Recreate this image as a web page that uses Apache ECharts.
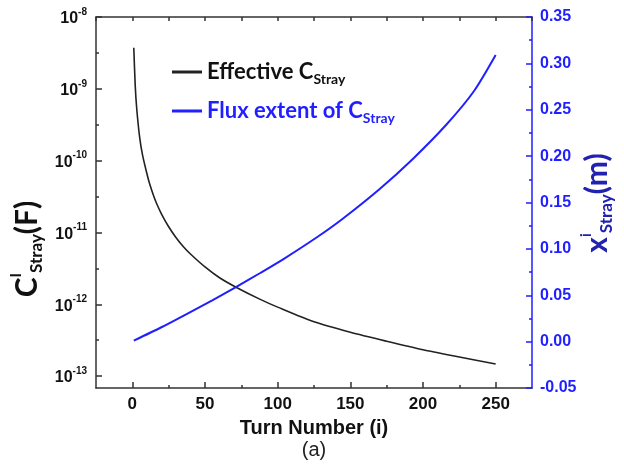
<!DOCTYPE html>
<html>
<head>
<meta charset="utf-8">
<script src="https://cdn.jsdelivr.net/npm/echarts@6/dist/echarts.min.js"></script>
<style>html,body{margin:0;padding:0;background:#fff;}#c{width:624px;height:464px;}</style>
</head>
<body>
<div id="c"></div>
<script>
// ---- data ----
const turnC = [1, 2, 3, 5, 7, 10, 12, 15, 17, 20, 25, 30, 35, 40, 50, 60, 72, 88, 100, 125, 150, 175, 200, 225, 250];
const capC = [3.72e-9, 1.10e-9, 5.37e-10, 2.14e-10, 1.20e-10, 6.61e-11, 4.68e-11, 3.09e-11, 2.45e-11, 1.82e-11, 1.20e-11, 8.51e-12, 6.38e-12, 5.01e-12, 3.31e-12, 2.34e-12, 1.70e-12, 1.17e-12, 9.12e-13, 5.69e-13, 4.07e-13, 3.05e-13, 2.32e-13, 1.84e-13, 1.47e-13];
const turnX = [1, 20, 37, 55, 71, 88, 104, 127, 145, 170, 193, 216, 235, 250];
const fluxX = [0.001, 0.0155, 0.0295, 0.0445, 0.0585, 0.074, 0.089, 0.1125, 0.1328, 0.1643, 0.197, 0.2338, 0.2699, 0.309];
const xTicks = [0, 50, 100, 150, 200, 250];
const xMinor = [25, 75, 125, 175, 225];
const leftExp = [-13, -12, -11, -10, -9, -8];
const leftMinor = [-12.5, -11.5, -10.5, -9.5, -8.5];

const BLUE = '#1f1fff';
const NAVY = '#2222b0';
const AX = '#333';
const logMin = -13.166;

const chart = echarts.init(document.getElementById('c'), null, {renderer: 'canvas'});
const arial = 'Liberation Sans, Arial, sans-serif';
const cal = 'Lato, Open Sans, sans-serif';

const option = {
  animation: false,
  backgroundColor: '#fff',
  grid: {left: 96, right: 92, top: 17, bottom: 76, containLabel: false},
  legend: {
    orient: 'vertical', left: 167, top: 56, itemWidth: 30, itemHeight: 3, itemGap: 14, icon: 'rect',
    data: ['eff', 'flux'],
    formatter: n => n === 'eff' ? '{em|Effective C}{es|Stray}' : '{fm|Flux extent of C}{fs|Stray}',
    textStyle: {
      padding: [0, 0, 0, 0],
      rich: {
        em: {fontFamily: cal, fontWeight: 'bold', fontSize: 22, color: '#111', lineHeight: 28, verticalAlign: 'middle'},
        es: {fontFamily: cal, fontWeight: 'bold', fontSize: 14, color: '#111', lineHeight: 14, verticalAlign: 'bottom'},
        fm: {fontFamily: cal, fontWeight: 'bold', fontSize: 22, color: BLUE, lineHeight: 28, verticalAlign: 'middle'},
        fs: {fontFamily: cal, fontWeight: 'bold', fontSize: 14, color: BLUE, lineHeight: 14, verticalAlign: 'bottom'}
      }
    }
  },
  xAxis: [
    {type: 'value', position: 'bottom', min: -25, max: 275, splitLine: {show: false},
     axisLine: {onZero: false, lineStyle: {color: AX, width: 1.5}},
     axisTick: {inside: true, length: 6, customValues: xTicks, lineStyle: {color: AX, width: 1.5}},
     axisLabel: {customValues: xTicks, margin: 8, color: '#111', fontFamily: arial, fontWeight: 'bold', fontSize: 17}},
    {type: 'value', position: 'bottom', min: -25, max: 275, splitLine: {show: false},
     axisLine: {show: false, onZero: false},
     axisTick: {inside: true, length: 3, customValues: xMinor, lineStyle: {color: AX, width: 1.5}},
     axisLabel: {show: false}},
    {type: 'value', position: 'top', min: -25, max: 275, interval: 25, splitLine: {show: false},
     axisLine: {onZero: false, lineStyle: {color: AX, width: 1.5}},
     axisTick: {inside: true, length: 4, lineStyle: {color: AX, width: 1.5}},
     axisLabel: {show: false}}
  ],
  yAxis: [
    {type: 'value', position: 'left', min: logMin, max: -8, splitLine: {show: false},
     axisLine: {show: true, onZero: false, lineStyle: {color: AX, width: 1.5}},
     axisTick: {show: true, inside: true, length: 6, customValues: leftExp, lineStyle: {color: AX, width: 1.5}},
     axisLabel: {customValues: leftExp, margin: 9, formatter: v => '{b|10}{s|' + v + '}',
       rich: {
         b: {fontFamily: arial, fontWeight: 'bold', fontSize: 16, color: '#111', lineHeight: 20, verticalAlign: 'bottom'},
         s: {fontFamily: arial, fontWeight: 'bold', fontSize: 10, color: '#111', lineHeight: 10, verticalAlign: 'top'}
       }}},
    {type: 'value', position: 'left', min: logMin, max: -8, splitLine: {show: false},
     axisLine: {show: false, onZero: false},
     axisTick: {show: true, inside: true, length: 3, customValues: leftMinor, lineStyle: {color: AX, width: 1.5}},
     axisLabel: {show: false}},
    {type: 'value', position: 'right', min: -0.05, max: 0.35, interval: 0.05, splitLine: {show: false},
     axisLine: {show: true, onZero: false, lineStyle: {color: BLUE, width: 1.5}},
     axisTick: {show: true, inside: true, length: 6, lineStyle: {color: BLUE, width: 1.5}},
     minorTick: {show: true, splitNumber: 2, length: 3, lineStyle: {color: BLUE, width: 1.5}},
     axisLabel: {margin: 8, color: BLUE, fontFamily: arial, fontWeight: 'bold', fontSize: 16, formatter: v => v.toFixed(2)}}
  ],
  series: [
    {name: 'eff', type: 'line', xAxisIndex: 0, yAxisIndex: 0, smooth: 0.25, showSymbol: false,
     symbol: 'none', color: '#222', lineStyle: {color: '#222', width: 1.6},
     data: turnC.map((t, k) => [t, Math.log10(capC[k])])},
    {name: 'flux', type: 'line', xAxisIndex: 0, yAxisIndex: 2, smooth: 0.25, showSymbol: false,
     symbol: 'none', color: BLUE, lineStyle: {color: BLUE, width: 2},
     data: turnX.map((t, k) => [t, fluxX[k]])}
  ],
  graphic: [
    {type: 'text', x: 27, y: 249, rotation: Math.PI / 2,
     style: {text: '{m|C}{sup|I}{sub|Stray}{m|(F)}', align: 'center', verticalAlign: 'middle',
       rich: {
         m: {fontFamily: cal, fontWeight: 'bold', fontSize: 30, lineHeight: 36, verticalAlign: 'middle', fill: '#111'},
         sup: {fontFamily: cal, fontWeight: 'bold', fontSize: 15, lineHeight: 15, verticalAlign: 'top', fill: '#111'},
         sub: {fontFamily: cal, fontWeight: 'bold', fontSize: 17, lineHeight: 17, verticalAlign: 'bottom', fill: '#111'}
       }}},
    {type: 'text', x: 597, y: 203, rotation: Math.PI / 2,
     style: {text: '{m|x}{sup|i}{sub|Stray}{m|(m)}', align: 'center', verticalAlign: 'middle',
       rich: {
         m: {fontFamily: cal, fontWeight: 'bold', fontSize: 30, lineHeight: 36, verticalAlign: 'middle', fill: NAVY},
         sup: {fontFamily: cal, fontWeight: 'bold', fontSize: 15, lineHeight: 15, verticalAlign: 'top', fill: NAVY},
         sub: {fontFamily: cal, fontWeight: 'bold', fontSize: 17, lineHeight: 17, verticalAlign: 'bottom', fill: NAVY}
       }}},
    {type: 'text', x: 314, y: 428,
     style: {text: 'Turn Number (i)', align: 'center', verticalAlign: 'middle', fontFamily: arial, fontWeight: 'bold', fontSize: 20, fill: '#111'}},
    {type: 'text', x: 314, y: 450,
     style: {text: '(a)', align: 'center', verticalAlign: 'middle', fontFamily: arial, fontSize: 20, fill: '#222'}}
  ]
};
chart.setOption(option);
</script>
</body>
</html>
